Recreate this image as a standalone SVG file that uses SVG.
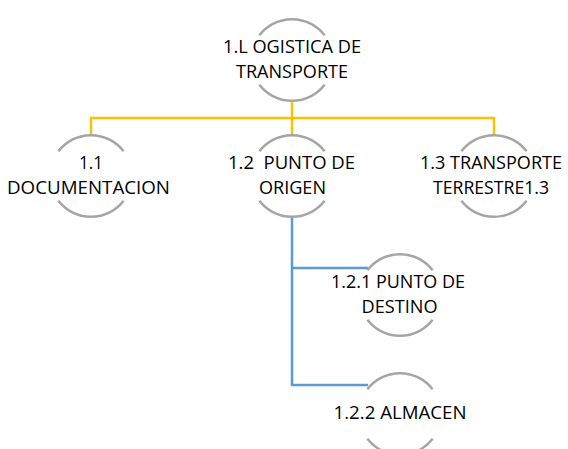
<svg xmlns="http://www.w3.org/2000/svg" width="568" height="449" viewBox="0 0 568 449">
<style>
.arc{fill:none;stroke:#A5A5A5;stroke-width:2.5}
.lbl{font-family:"Open Sans",Lato,"Liberation Sans",sans-serif;font-size:19px;fill:#000;text-anchor:middle}
.y{fill:none;stroke:#FFC000;stroke-width:2.5}
.b{fill:none;stroke:#5B9BD5;stroke-width:2.5}
</style>
<rect width="568" height="449" fill="#fff"/>
<g id="connectors">
<path class="y" d="M292 101 V135"/>
<path class="y" d="M91 135 V118 H494 V135"/>
<path class="b" d="M292 217 V385 H368"/>
<path class="b" d="M292 268 H368"/>
</g>
<g id="n1">
<path class="arc" d="M259.4 35.3 A41 41 0 0 1 324.6 35.3"/>
<path class="arc" d="M259.4 84.7 A41 41 0 0 0 324.6 84.7"/>
<text class="lbl" x="292" y="53" textLength="138" lengthAdjust="spacingAndGlyphs">1.L OGISTICA DE</text>
<text class="lbl" x="292" y="78" textLength="112" lengthAdjust="spacingAndGlyphs">TRANSPORTE</text>
</g>
<g id="n11">
<path class="arc" d="M58.4 151.3 A41 41 0 0 1 123.6 151.3"/>
<path class="arc" d="M58.4 200.7 A41 41 0 0 0 123.6 200.7"/>
<text class="lbl" x="91" y="169" textLength="24" lengthAdjust="spacingAndGlyphs">1.1</text>
<text class="lbl" x="88.5" y="194" textLength="163" lengthAdjust="spacingAndGlyphs">DOCUMENTACION</text>
</g>
<g id="n12">
<path class="arc" d="M259.4 151.3 A41 41 0 0 1 324.6 151.3"/>
<path class="arc" d="M259.4 200.7 A41 41 0 0 0 324.6 200.7"/>
<text class="lbl" x="291.5" y="169" textLength="127" lengthAdjust="spacingAndGlyphs" xml:space="preserve">1.2  PUNTO DE</text>
<text class="lbl" x="292.5" y="194" textLength="67" lengthAdjust="spacingAndGlyphs">ORIGEN</text>
</g>
<g id="n13">
<path class="arc" d="M461.4 151.3 A41 41 0 0 1 526.6 151.3"/>
<path class="arc" d="M461.4 200.7 A41 41 0 0 0 526.6 200.7"/>
<text class="lbl" x="491" y="169" textLength="142" lengthAdjust="spacingAndGlyphs">1.3 TRANSPORTE</text>
<text class="lbl" x="491" y="194" textLength="116" lengthAdjust="spacingAndGlyphs">TERRESTRE1.3</text>
</g>
<g id="n121">
<path class="arc" d="M367.4 270.3 A41 41 0 0 1 432.6 270.3"/>
<path class="arc" d="M367.4 319.7 A41 41 0 0 0 432.6 319.7"/>
<text class="lbl" x="398" y="288" textLength="134" lengthAdjust="spacingAndGlyphs">1.2.1 PUNTO DE</text>
<text class="lbl" x="399.5" y="313" textLength="76" lengthAdjust="spacingAndGlyphs">DESTINO</text>
</g>
<g id="n122">
<path class="arc" d="M367.4 389.3 A41 41 0 0 1 432.6 389.3"/>
<path class="arc" d="M367.4 438.7 A41 41 0 0 0 432.6 438.7"/>
<text class="lbl" x="400" y="419" textLength="133" lengthAdjust="spacingAndGlyphs">1.2.2 ALMACEN</text>
</g>
</svg>
